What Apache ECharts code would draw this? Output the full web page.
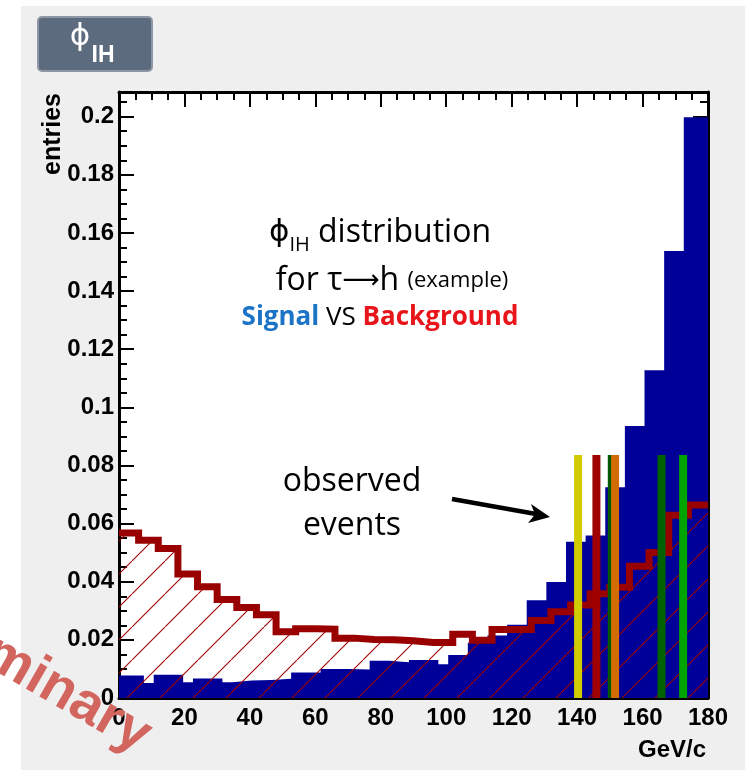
<!DOCTYPE html>
<html>
<head>
<meta charset="utf-8">
<script src="https://cdn.jsdelivr.net/npm/echarts@6/dist/echarts.min.js"></script>
<style>
  html, body { margin: 0; padding: 0; background: #ffffff; }
  #panel { position: absolute; left: 21px; top: 6px; width: 724px; height: 764px; background: #efefef; }
  #chart { position: absolute; left: 0; top: 0; width: 745px; height: 770px; }
</style>
</head>
<body>
<div id="panel"></div>
<div id="chart"></div>
<script>
// Background (tau -> h fakes): 30 bins of 6 GeV/c between 0 and 180
const backgroundBinWidth = 6;
const backgroundValues = [
  0.0568, 0.0543, 0.0514, 0.0427, 0.0383, 0.0339, 0.0311, 0.0286, 0.0228, 0.0238,
  0.0237, 0.0206, 0.0201, 0.0200, 0.0197, 0.0191, 0.0191, 0.0219, 0.0199, 0.0236,
  0.0236, 0.0267, 0.0297, 0.0320, 0.0359, 0.0381, 0.0453, 0.0501, 0.0629, 0.0664
];

// Signal histogram: lower bin edges (last entry closes the final bin) and contents
const signalEdges = [
  0, 7.6, 10.6, 19.6, 22.6, 31.6, 34.6, 40.6, 46.6, 52.6,
  61.6, 70.6, 76.6, 82.6, 88.6, 97.6, 100.6, 106.6, 112.6, 118.6,
  124.6, 130.6, 136.6, 142.6, 148.6, 154.6, 160.6, 166.6, 172.6, 180
];
const signalValues = [
  0.0077, 0.0052, 0.0080, 0.0054, 0.0067, 0.0054, 0.0060, 0.0062, 0.0066, 0.0088,
  0.0100, 0.0098, 0.0128, 0.0123, 0.0131, 0.0116, 0.0148, 0.0190, 0.0215, 0.0252,
  0.0336, 0.0399, 0.0538, 0.0559, 0.0725, 0.0936, 0.1128, 0.1538, 0.1998
];

// Observed events (GeV/c) and the colour of each marker
const observedEvents = [140.3, 145.9, 150.6, 151.6, 165.8, 172.4];
const eventColors = ['#d0cc00', '#a00000', '#005800', '#d26c00', '#006200', '#00a400'];
const eventMarkerHeight = 0.0836;

// Turn bin edges + contents into a step outline
function stepPoints(edges, values) {
  const pts = values.map((v, i) => [edges[i], v]);
  pts.push([edges[edges.length - 1], values[values.length - 1]]);
  return pts;
}

const backgroundEdges = backgroundValues.map((_, i) => i * backgroundBinWidth)
  .concat([backgroundValues.length * backgroundBinWidth]);

// 45 degree hatch pattern for the background fill
function hatchCanvas() {
  const s = 33;
  const c = document.createElement('canvas');
  c.width = s; c.height = s;
  const g = c.getContext('2d');
  g.strokeStyle = '#a00000';
  g.lineWidth = 1.1;
  g.beginPath();
  g.moveTo(-3, s + 3);
  g.lineTo(s + 3, -3);
  g.stroke();
  return c;
}

const axisFont = 'Liberation Sans';
const Y_MAX = 0.2085;

function xAxisDef(pos, labels) {
  return {
    type: 'value', min: 0, max: 180, interval: 20, position: pos, gridIndex: 0,
    axisLine: { onZero: false, lineStyle: { color: '#000', width: 3 } },
    axisTick: { inside: true, length: 15, lineStyle: { color: '#000', width: 2 } },
    minorTick: { show: true, splitNumber: 4, length: 8, lineStyle: { color: '#000', width: 2 } },
    splitLine: { show: false }, minorSplitLine: { show: false },
    axisLabel: labels ? {
      show: true, fontSize: 24, fontWeight: 'bold', fontFamily: axisFont, color: '#000', margin: 8
    } : { show: false }
  };
}

function yAxisDef(pos, major, labels) {
  return {
    type: 'value', min: 0, max: Y_MAX, interval: major ? 0.02 : 0.005, position: pos, gridIndex: 0,
    axisLine: major ? { onZero: false, lineStyle: { color: '#000', width: 3 } } : { show: false, onZero: false },
    axisTick: { inside: true, length: major ? 15 : 8, lineStyle: { color: '#000', width: 2 } },
    splitLine: { show: false },
    axisLabel: labels ? {
      show: true, showMaxLabel: false, fontSize: 24, fontWeight: 'bold', fontFamily: axisFont,
      color: '#000', margin: 5,
      formatter: v => String(+v.toFixed(3))
    } : { show: false }
  };
}

const chart = echarts.init(document.getElementById('chart'), null, { renderer: 'canvas' });

const option = {
  animation: false,
  backgroundColor: 'transparent',
  grid: { left: 119, right: 37, top: 92, bottom: 72, show: true, backgroundColor: '#ffffff', borderWidth: 0 },
  xAxis: [xAxisDef('bottom', true), xAxisDef('top', false)],
  yAxis: [
    yAxisDef('left', true, true),
    yAxisDef('left', false, false),
    yAxisDef('right', true, false),
    yAxisDef('right', false, false)
  ],
  series: [
    {
      name: 'Signal', type: 'line', step: 'end', xAxisIndex: 0, yAxisIndex: 0,
      data: stepPoints(signalEdges, signalValues),
      showSymbol: false, z: 1,
      lineStyle: { opacity: 0 },
      areaStyle: { color: '#000099', opacity: 1 }
    },
    {
      name: 'Background hatch', type: 'line', step: 'end', xAxisIndex: 0, yAxisIndex: 0,
      data: stepPoints(backgroundEdges, backgroundValues),
      showSymbol: false, z: 2,
      lineStyle: { opacity: 0 },
      areaStyle: { color: { image: hatchCanvas(), repeat: 'repeat' }, opacity: 1 }
    },
    {
      name: 'Background', type: 'line', step: 'end', xAxisIndex: 0, yAxisIndex: 0,
      data: stepPoints(backgroundEdges, backgroundValues),
      showSymbol: false, z: 3,
      lineStyle: { color: '#990000', width: 7, join: 'miter', cap: 'butt' }
    },
    {
      name: 'Observed', type: 'custom', xAxisIndex: 0, yAxisIndex: 0, z: 4,
      data: observedEvents.map((x, i) => [x, eventMarkerHeight, i]),
      renderItem: function (params, api) {
        const base = api.coord([api.value(0), 0]);
        const top = api.coord([api.value(0), api.value(1)]);
        const w = 8;
        return {
          type: 'rect',
          shape: { x: base[0] - w / 2, y: top[1], width: w, height: base[1] - top[1] },
          style: { fill: eventColors[api.value(2)] }
        };
      }
    }
  ],
  graphic: [
    // histogram title box
    {
      type: 'rect', z: 100,
      shape: { x: 38, y: 17, width: 114, height: 54, r: 4 },
      style: { fill: '#5d6b7f', stroke: '#8d97a6', lineWidth: 2 }
    },
    {
      type: 'text', z: 101, x: 80, y: 37,
      style: { text: 'ϕ', font: '31px "DejaVu Sans"', fill: '#ffffff', align: 'center', verticalAlign: 'middle' }
    },
    {
      type: 'text', z: 101, x: 103, y: 56,
      style: { text: 'IH', font: 'bold 23px "Liberation Sans"', fill: '#ffffff', align: 'center', verticalAlign: 'middle' }
    },
    // axis titles
    {
      type: 'text', z: 101, x: 53, y: 93, rotation: Math.PI / 2,
      style: { text: 'entries', font: 'bold 25px "Liberation Sans"', fill: '#000', align: 'right', verticalAlign: 'middle' }
    },
    {
      type: 'text', z: 101, x: 706, y: 750,
      style: { text: 'GeV/c', font: 'bold 24px "Liberation Sans"', fill: '#000', align: 'right', verticalAlign: 'middle' }
    },
    // description
    {
      type: 'text', z: 101, x: 380, y: 233,
      style: {
        text: '{p|ϕ}{s|IH}{t| distribution}', align: 'center', verticalAlign: 'middle',
        rich: {
          p: { fontSize: 31, fontFamily: 'DejaVu Sans', fill: '#000', lineHeight: 44 },
          s: { fontSize: 20, fontFamily: 'Open Sans', fill: '#000', lineHeight: 20, verticalAlign: 'bottom' },
          t: { fontSize: 32, fontFamily: 'Open Sans', fill: '#000', lineHeight: 44 }
        }
      }
    },
    {
      type: 'text', z: 101, x: 392, y: 281,
      style: {
        text: '{t|for τ}{a|⟶}{t|h }{e|(example)}', align: 'center', verticalAlign: 'middle',
        rich: {
          t: { fontSize: 32, fontFamily: 'Open Sans', fill: '#000', lineHeight: 44 },
          a: { fontSize: 26, fontFamily: 'DejaVu Sans', fill: '#000', lineHeight: 44 },
          e: { fontSize: 22, fontFamily: 'Open Sans', fill: '#000', lineHeight: 44 }
        }
      }
    },
    {
      type: 'text', z: 101, x: 380, y: 318,
      style: {
        text: '{b|Signal}{v| VS }{k|Background}', align: 'center', verticalAlign: 'middle',
        rich: {
          b: { fontSize: 26, fontWeight: 'bold', fontFamily: 'Open Sans', fill: '#1b74c5' },
          v: { fontSize: 26, fontFamily: 'Open Sans', fill: '#000' },
          k: { fontSize: 26, fontWeight: 'bold', fontFamily: 'Open Sans', fill: '#e8161b' }
        }
      }
    },
    {
      type: 'text', z: 101, x: 352, y: 482,
      style: { text: 'observed', font: '32px "Open Sans"', fill: '#000', align: 'center', verticalAlign: 'middle' }
    },
    {
      type: 'text', z: 101, x: 352, y: 526,
      style: { text: 'events', font: '32px "Open Sans"', fill: '#000', align: 'center', verticalAlign: 'middle' }
    },
    // arrow towards the event markers
    {
      type: 'line', z: 101,
      shape: { x1: 452, y1: 499, x2: 536, y2: 514 },
      style: { stroke: '#000', lineWidth: 4.5 }
    },
    {
      type: 'polygon', z: 101,
      shape: { points: [[550, 517], [531, 504], [535, 514.5], [528, 523]] },
      style: { fill: '#000' }
    },
    // status stamp
    {
      type: 'text', z: 120, x: 14, y: 664, rotation: -30 * Math.PI / 180,
      style: { text: 'Preliminary', font: 'bold 56px "Liberation Sans"', fill: '#d2665f', align: 'center', verticalAlign: 'middle' }
    }
  ]
};

chart.setOption(option);
</script>
</body>
</html>
